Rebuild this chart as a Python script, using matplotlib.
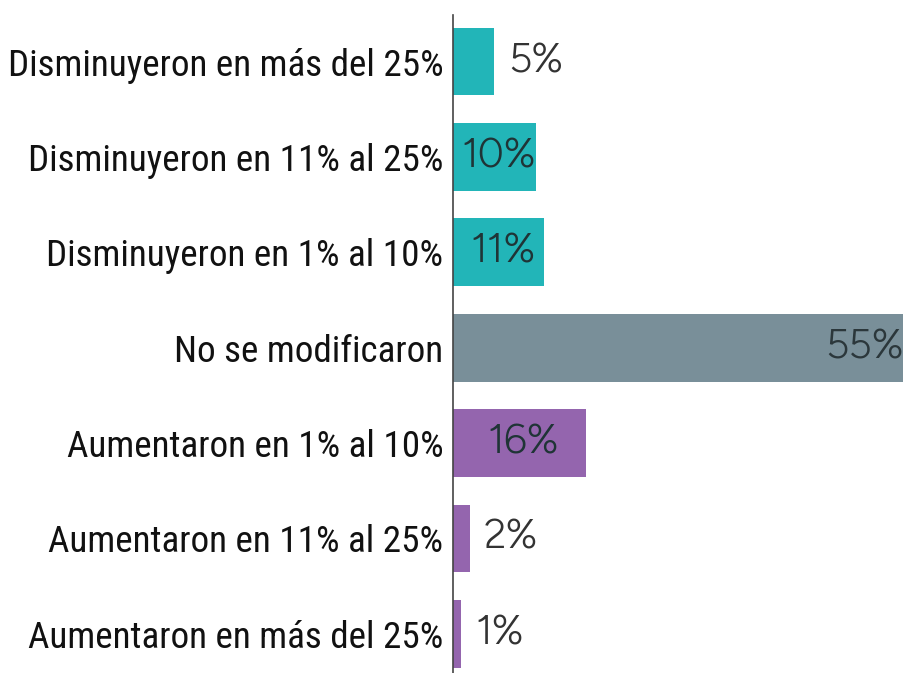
import matplotlib.pyplot as plt

categorias = ["Disminuyeron en más del 25%", "Disminuyeron en 11% al 25%",
              "Disminuyeron en 1% al 10%", "No se modificaron",
              "Aumentaron en 1% al 10%", "Aumentaron en 11% al 25%",
              "Aumentaron en más del 25%"]
valores = [5, 10, 11, 55, 16, 2, 1]
colores = ["#22b5b8", "#22b5b8", "#22b5b8", "#798f99", "#9465ae", "#9465ae", "#9465ae"]

fig = plt.figure(figsize=(9.04, 6.73), dpi=100)
ax = fig.add_axes([0.501, 0.0, 0.499, 0.978])

y = list(range(len(valores)))
ax.barh(y, valores, height=0.71, color=colores)
xmax = 54.3  # la barra mayor queda cortada en el borde
ax.set_xlim(0, xmax)
ax.set_ylim(6.41, -0.49)

ax.set_yticks(y)
ax.set_yticklabels(categorias, fontsize=26.7, family="Roboto Condensed", color="#111111")
ax.tick_params(axis="y", length=0, pad=7)
ax.set_xticks([])
for s in ["top", "right", "bottom"]:
    ax.spines[s].set_visible(False)
ax.spines["left"].set_color("#444444")
ax.spines["left"].set_linewidth(1.2)

# etiquetas de valor
fuente = dict(fontsize=29.5, family="Figtree")
for i, v in enumerate(valores):
    txt = f"{v}%"
    if v == max(valores):
        ax.annotate(txt, (min(v, xmax), i), xytext=(0, 0), textcoords="offset points",
                    ha="right", va="center", color="#2b373b", **fuente)
    elif v >= 8:
        ax.annotate(txt, (v / 2, i), xytext=(3, 0), textcoords="offset points",
                    ha="center", va="center", color="#1f3436", **fuente)
    else:
        ax.annotate(txt, (v, i), xytext=(10, 0), textcoords="offset points",
                    ha="left", va="center", color="#333333", **fuente)

fig.savefig("out.png", dpi=100)
